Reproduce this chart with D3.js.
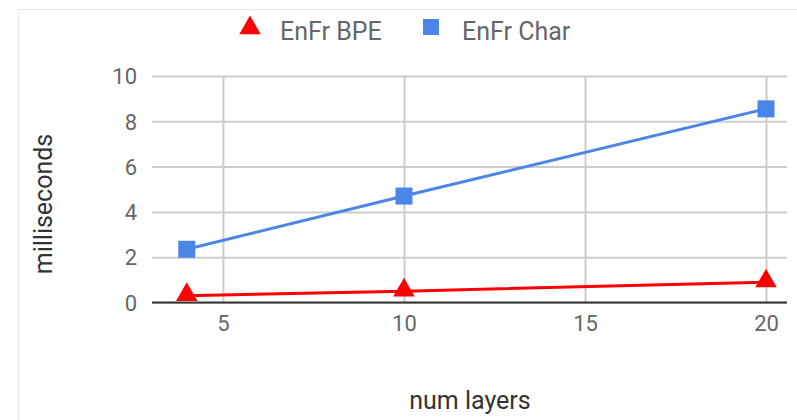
<!DOCTYPE html>
<html><head><meta charset="utf-8">
<script src="https://cdn.jsdelivr.net/npm/d3@7/dist/d3.min.js"></script>
<style>body{margin:0;background:#fff}svg{display:block}text{font-family:Roboto,"Noto Sans",sans-serif}</style>
</head><body>
<svg id="c" width="797" height="420"></svg>
<script>
const layers = [4, 10, 20];
const bpeValues = [0.3, 0.5, 0.9];
const charValues = [2.35, 4.7, 8.55];
const xTicks = [5, 10, 15, 20];
const yTicks = [0, 2, 4, 6, 8, 10];
const seriesNames = ["EnFr BPE", "EnFr Char"];
const seriesColors = ["#ff0000", "#4a86e8"];

const svg = d3.select("#c");
const W = 797, H = 420;
const pL = 152, pR = 787, pT = 76, pB = 302.5;
const x = d3.scaleLinear().domain([3.04, 20.58]).range([pL, pR]);
const y = d3.scaleLinear().domain([0, 10]).range([pB, pT]);
const fs = 22, fsBig = 25;
const textColor = "#666666";

// frame lines
svg.append("line").attr("x1",18.5).attr("x2",W).attr("y1",9.5).attr("y2",9.5).attr("stroke","#e6e6e6");
svg.append("line").attr("x1",18.5).attr("x2",18.5).attr("y1",9.5).attr("y2",H).attr("stroke","#e6e6e6");

// grid
const gy = svg.append("g").attr("transform",`translate(${pL},0)`)
  .call(d3.axisLeft(y).tickValues(yTicks).tickSize(-(pR-pL)).tickFormat(d3.format("d")));
gy.select(".domain").remove();
gy.selectAll(".tick line").attr("stroke","#cccccc").attr("stroke-width",2);
gy.selectAll(".tick text").attr("x",-15).attr("fill",textColor).style("font-size",fs+"px").attr("dy","0.35em");

const gx = svg.append("g").attr("transform",`translate(0,${pB})`)
  .call(d3.axisBottom(x).tickValues(xTicks).tickSize(-(pB-pT)).tickFormat(d3.format("d")));
gx.select(".domain").remove();
gx.selectAll(".tick line").attr("stroke","#cccccc").attr("stroke-width",2);
gx.selectAll(".tick text").attr("y",28).attr("fill",textColor).style("font-size",fs+"px").attr("dy","0");

// baseline
svg.append("line").attr("x1",pL).attr("x2",pR).attr("y1",y(0)).attr("y2",y(0)).attr("stroke","#333").attr("stroke-width",2);

const line = d3.line().x((d,i)=>x(layers[i])).y(d=>y(d));
[bpeValues, charValues].forEach((vals, s) => {
  svg.append("path").datum(vals).attr("d", line).attr("fill","none")
    .attr("stroke", seriesColors[s]).attr("stroke-width", 3);
});

const tri = d3.symbol().type(d3.symbolTriangle).size(200);
svg.selectAll(".tri").data(bpeValues).join("path").attr("class","tri")
  .attr("d", tri).attr("transform",(d,i)=>`translate(${x(layers[i])},${y(d)-1})`).attr("fill", seriesColors[0]);
svg.selectAll(".sq").data(charValues).join("rect").attr("class","sq")
  .attr("x",(d,i)=>x(layers[i])-8.5).attr("y",d=>y(d)-8.5).attr("width",17).attr("height",17).attr("fill", seriesColors[1]);

// legend
svg.append("path").attr("d", d3.symbol().type(d3.symbolTriangle).size(200)()).attr("transform","translate(250,28)").attr("fill",seriesColors[0]);
svg.append("text").attr("x",280).attr("y",40).attr("fill",textColor).style("font-size",fsBig+"px").text(seriesNames[0]);
svg.append("rect").attr("x",423).attr("y",19).attr("width",16).attr("height",16).attr("fill",seriesColors[1]);
svg.append("text").attr("x",462).attr("y",40).attr("fill",textColor).style("font-size",fsBig+"px").text(seriesNames[1]);

// axis titles
svg.append("text").attr("x",470).attr("y",409).attr("text-anchor","middle").attr("fill","#333").style("font-size",fsBig+"px").text("num layers");
svg.append("text").attr("transform","translate(52,204) rotate(-90)").attr("text-anchor","middle").attr("fill","#333").style("font-size",fsBig+"px").text("milliseconds");
</script>
</body></html>
